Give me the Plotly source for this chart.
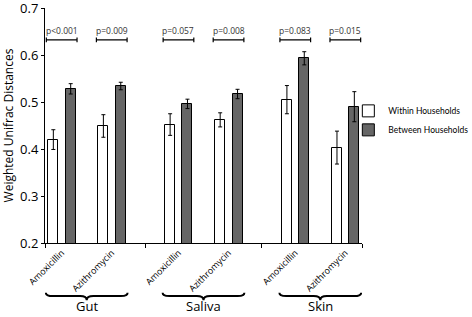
import plotly.graph_objects as go

groups = ["Gut", "Saliva", "Skin"]
drugs = ["Amoxicillin", "Azithromycin"]
within = [0.420, 0.449, 0.452, 0.462, 0.505, 0.403]
within_err = [0.021, 0.024, 0.023, 0.015, 0.030, 0.035]
between = [0.528, 0.534, 0.496, 0.517, 0.593, 0.490]
between_err = [0.011, 0.008, 0.010, 0.010, 0.014, 0.032]
p_labels = ["p<0.001", "p=0.009", "p=0.057", "p=0.008", "p=0.083", "p=0.015"]
y_ticks = [0.2, 0.3, 0.4, 0.5, 0.6, 0.7]

# layout positions (group spacing 7 units, pair spacing 3 units)
pos = [gi * 7 + di * 3 + 1 for gi in range(len(groups)) for di in range(len(drugs))]
tick_text = [d for _ in groups for d in drugs]
group_centers = [gi * 7 + 2.5 for gi in range(len(groups))]
boundaries = [0] + [gi * 7 + 6 for gi in range(len(groups) - 1)] + [19]

FONT = "Open Sans"
LFONT = "Lato"

fig = go.Figure()
fig.add_trace(go.Bar(
    x=pos, y=within, name="Within Households",
    offset=-0.8, width=0.6,
    marker=dict(color="white", line=dict(color="black", width=1)),
    error_y=dict(type="data", array=within_err, color="black", thickness=1, width=2),
))
fig.add_trace(go.Bar(
    x=pos, y=between, name="Between Households",
    offset=0.24, width=0.6,
    marker=dict(color="#666666", line=dict(color="black", width=1)),
    error_y=dict(type="data", array=between_err, color="black", thickness=1, width=2),
))

shapes = []
annotations = []
yb, cap = 0.632, 0.005
for p, lab in zip(pos, p_labels):
    x0, x1 = p - 0.92, p + 0.92
    shapes.append(dict(
        type="path", xref="x", yref="y",
        path=f"M {x0},{yb-cap} L {x0},{yb+cap} M {x0},{yb} L {x1},{yb} M {x1},{yb-cap} L {x1},{yb+cap}",
        line=dict(color="black", width=1.2),
    ))
    annotations.append(dict(
        x=p, y=yb + 0.005, xref="x", yref="y", text=lab, showarrow=False,
        yanchor="bottom", font=dict(size=8.5, color="#333333", family=FONT),
    ))

y_end, y_mid, y_tip = -0.212, -0.226, -0.244
for gc, g in zip(group_centers, groups):
    x0, x1 = gc - 2.45, gc + 2.45
    path = (f"M {x0},{y_end} Q {x0},{y_mid} {x0+0.4},{y_mid} L {gc-0.4},{y_mid} "
            f"Q {gc},{y_mid} {gc},{y_tip} Q {gc},{y_mid} {gc+0.4},{y_mid} "
            f"L {x1-0.4},{y_mid} Q {x1},{y_mid} {x1},{y_end}")
    shapes.append(dict(type="path", xref="x", yref="paper", path=path,
                       line=dict(color="black", width=2)))
    annotations.append(dict(
        x=gc, y=-0.312, xref="x", yref="paper", text=g, showarrow=False,
        yanchor="bottom", borderpad=0,
        font=dict(size=13, color="black", family=FONT),
    ))

fig.update_layout(
    width=472, height=317,
    margin=dict(l=45, r=110, t=8, b=74, autoexpand=False),
    plot_bgcolor="white", paper_bgcolor="white",
    font=dict(family=FONT, color="black"),
    showlegend=True,
    legend=dict(xref="container", yref="container", x=0.738, y=0.696,
                xanchor="left", yanchor="top",
                font=dict(size=8.5, family=LFONT, color="black"), itemwidth=30,
                tracegroupgap=0, bgcolor="rgba(0,0,0,0)"),
    shapes=shapes, annotations=annotations,
    bargap=0,
)
fig.update_xaxes(
    range=[0, 19], showgrid=False, zeroline=False, automargin=False,
    showline=True, linecolor="black", linewidth=1,
    tickmode="array", tickvals=pos, ticktext=tick_text, ticks="",
    tickangle=-45, tickfont=dict(size=9, family=FONT, color="black"),
    minor=dict(tickmode="array", tickvals=boundaries, ticks="outside",
               ticklen=4, tickcolor="black", showgrid=False),
)
fig.update_yaxes(
    range=[0.2, 0.7], tickmode="array", tickvals=y_ticks,
    ticktext=[f"{v:.1f}" for v in y_ticks], automargin=False,
    ticklabeloverflow="allow",
    showgrid=False, zeroline=False,
    showline=True, linecolor="black", linewidth=1,
    ticks="outside", ticklen=3, tickcolor="black",
    tickfont=dict(size=13, family=FONT, color="black"),
    title=dict(text="Weighted Unifrac Distances", font=dict(size=12, family=FONT, color="black"), standoff=4),
)

fig.write_html("out.html", config={"displayModeBar": False},
               post_script="document.body.style.margin='0';")
